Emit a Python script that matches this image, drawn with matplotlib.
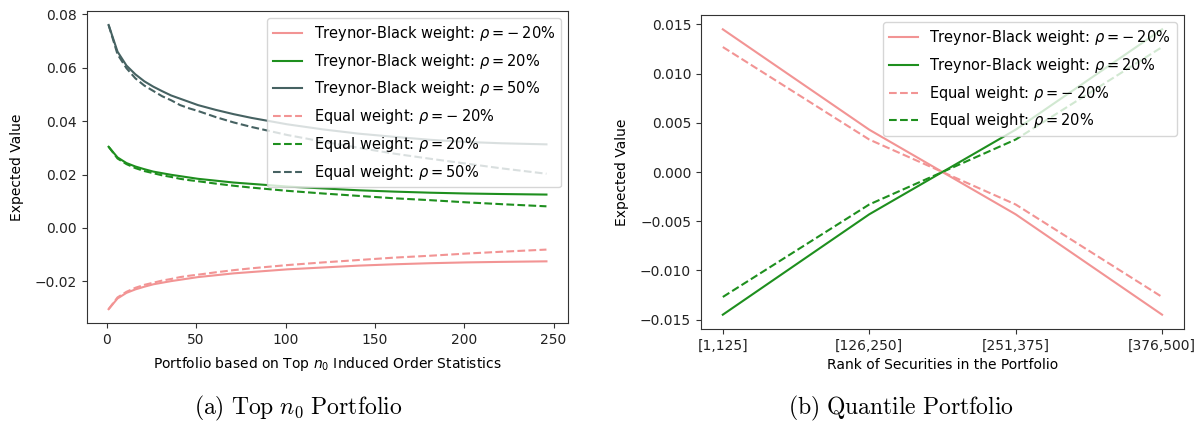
import matplotlib
matplotlib.use("Agg")
import matplotlib.pyplot as plt

plt.rcParams['mathtext.fontset'] = 'dejavusans'

# Top n0 portfolios
n0 = [1, 6, 11, 16, 21, 26, 31, 36, 41, 46, 51, 61, 71, 81, 91, 101,
      121, 141, 161, 181, 201, 221, 246]

tb_neg20 = [-0.0304, -0.0264, -0.0243, -0.0230, -0.0220, -0.0211, -0.0205, -0.0199,
            -0.0194, -0.0189, -0.0184, -0.0177, -0.0170, -0.0165, -0.0160, -0.0155,
            -0.0148, -0.0141, -0.0136, -0.0132, -0.0129, -0.0127, -0.0125]
tb_pos20 = [0.0304, 0.0264, 0.0243, 0.0230, 0.0220, 0.0211, 0.0205, 0.0199,
            0.0194, 0.0189, 0.0184, 0.0177, 0.0170, 0.0165, 0.0160, 0.0155,
            0.0148, 0.0141, 0.0136, 0.0132, 0.0129, 0.0127, 0.0125]
tb_pos50 = [0.0760, 0.0660, 0.0608, 0.0575, 0.0549, 0.0529, 0.0512, 0.0496,
            0.0484, 0.0472, 0.0460, 0.0442, 0.0426, 0.0412, 0.0400, 0.0388,
            0.0369, 0.0353, 0.0341, 0.0330, 0.0322, 0.0317, 0.0313]
eq_neg20 = [-0.0304, -0.0260, -0.0239, -0.0224, -0.0213, -0.0205, -0.0197, -0.0191,
            -0.0184, -0.0179, -0.0175, -0.0166, -0.0158, -0.0151, -0.0145, -0.0139,
            -0.0129, -0.0120, -0.0111, -0.0104, -0.0096, -0.0089, -0.0081]
eq_pos20 = [0.0304, 0.0260, 0.0239, 0.0224, 0.0213, 0.0205, 0.0197, 0.0191,
            0.0184, 0.0179, 0.0175, 0.0166, 0.0158, 0.0151, 0.0145, 0.0139,
            0.0129, 0.0120, 0.0111, 0.0104, 0.0096, 0.0089, 0.0081]
eq_pos50 = [0.0760, 0.0650, 0.0598, 0.0560, 0.0533, 0.0513, 0.0493, 0.0478,
            0.0460, 0.0448, 0.0438, 0.0415, 0.0395, 0.0378, 0.0363, 0.0348,
            0.0323, 0.0300, 0.0278, 0.0259, 0.0241, 0.0223, 0.0203]

# Quantile portfolios
quantiles = ['[1,125]', '[126,250]', '[251,375]', '[376,500]']
q_tb_neg20 = [0.0145, 0.0043, -0.0043, -0.0145]
q_tb_pos20 = [-0.0145, -0.0043, 0.0043, 0.0145]
q_eq_neg20 = [0.0127, 0.0033, -0.0033, -0.0127]
q_eq_pos20 = [-0.0127, -0.0033, 0.0033, 0.0127]

PINK = '#f29494'
GREEN = '#1e8f1e'
SLATE = '#466262'

RHO_M20 = r'$\rho=-\:20\%$'
RHO_P20 = r'$\rho=20\%$'
RHO_P50 = r'$\rho=50\%$'

fig = plt.figure(figsize=(11.96, 4.30), dpi=100)
ax1 = fig.add_axes([0.0725, 0.248, 0.4027, 0.727])
ax2 = fig.add_axes([0.586, 0.235, 0.404, 0.730])

ax1.plot(n0, tb_neg20, color=PINK, label='Treynor-Black weight: ' + RHO_M20)
ax1.plot(n0, tb_pos20, color=GREEN, label='Treynor-Black weight: ' + RHO_P20)
ax1.plot(n0, tb_pos50, color=SLATE, label='Treynor-Black weight: ' + RHO_P50)
ax1.plot(n0, eq_neg20, color=PINK, ls='--', label='Equal weight: ' + RHO_M20)
ax1.plot(n0, eq_pos20, color=GREEN, ls='--', label='Equal weight: ' + RHO_P20)
ax1.plot(n0, eq_pos50, color=SLATE, ls='--', label='Equal weight: ' + RHO_P50)
ax1.set_xlabel(r'Portfolio based on Top $n_0$ Induced Order Statistics', labelpad=6)
ax1.set_ylabel('Expected Value', labelpad=8)
ax1.set_yticks([-0.02, 0.0, 0.02, 0.04, 0.06, 0.08])
ax1.legend(loc='upper right', fontsize=10.5, labelspacing=0.6)

xq = range(len(quantiles))
ax2.plot(xq, q_tb_neg20, color=PINK, label='Treynor-Black weight: ' + RHO_M20)
ax2.plot(xq, q_tb_pos20, color=GREEN, label='Treynor-Black weight: ' + RHO_P20)
ax2.plot(xq, q_eq_neg20, color=PINK, ls='--', label='Equal weight: ' + RHO_M20)
ax2.plot(xq, q_eq_pos20, color=GREEN, ls='--', label='Equal weight: ' + RHO_P20)
ax2.set_xticks(list(xq))
ax2.set_xticklabels(quantiles)
ax2.set_xlabel('Rank of Securities in the Portfolio')
ax2.set_ylabel('Expected Value', labelpad=8)
ax2.legend(loc='upper right', fontsize=10.5, labelspacing=0.6)

for ax in (ax1, ax2):
    for sp in ax.spines.values():
        sp.set_color('#333333')
    ax.tick_params(colors='#333333', labelcolor='#222222')

fig.text(0.249, 0.051, r'$\mathrm{(a)\ Top\ }n_0\mathrm{\ Portfolio}$',
         ha='center', va='center', fontsize=17, math_fontfamily='cm')
fig.text(0.753, 0.051, r'$\mathrm{(b)\ Quantile\ Portfolio}$',
         ha='center', va='center', fontsize=17, math_fontfamily='cm')

fig.savefig('out.png', dpi=100)
